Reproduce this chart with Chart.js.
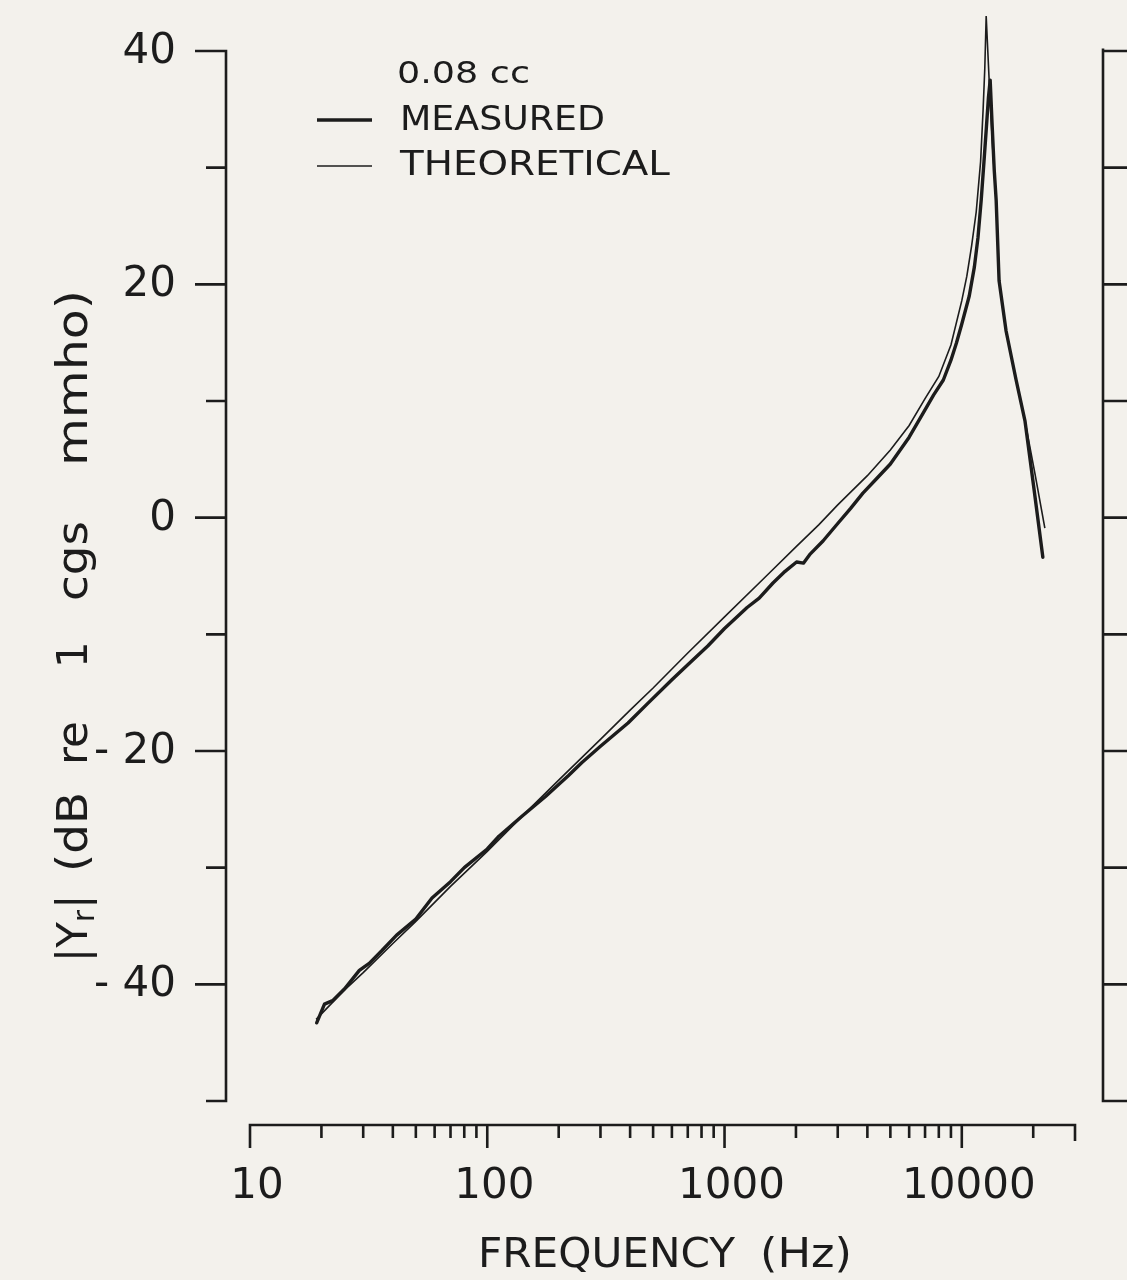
<!DOCTYPE html>
<html>
<head>
<meta charset="utf-8">
<script src="https://cdn.jsdelivr.net/npm/chart.js@4.4.1/dist/chart.umd.min.js"></script>
<style>
  html, body { margin: 0; padding: 0; background: #f3f1ec; }
  #wrap { width: 1127px; height: 1280px; position: relative; }
</style>
</head>
<body>
<div id="wrap"><canvas id="c" width="1127" height="1280"></canvas></div>
<script>
// Admittance magnitude of the 0.08 cc cavity, dB re 1 cgs mmho
const theoFreq = [19, 25, 30, 40, 50, 70, 100, 150, 200, 300, 400, 500, 700, 1000, 1500, 2000, 2500, 3000, 4000, 5000, 6000, 7000, 8000, 9000, 10000, 10500, 11000, 11500, 12000, 12300, 12500, 12670, 13040, 13500, 13960, 14360, 15370, 16940, 18460, 20330, 22390];
const theoDb   = [-43.0, -40.5, -39.0, -36.5, -34.6, -31.6, -28.6, -25.0, -22.5, -19.0, -16.5, -14.6, -11.6, -8.5, -5.0, -2.5, -0.6, 1.1, 3.6, 5.8, 7.9, 10.2, 12.1, 14.8, 18.6, 20.7, 23.3, 26.2, 30.5, 35.0, 38.5, 43.0, 37.5, 31.6, 27.2, 20.3, 16.0, 11.8, 8.3, 3.8, -0.9];

const measFreq = [19.1, 20.6, 22.3, 25, 28.9, 31.8, 36, 41.4, 50, 58.5, 70, 80, 100, 112, 140, 176, 220, 250, 300, 392, 476, 600, 700, 850, 1000, 1245, 1400, 1600, 1800, 2012, 2150, 2300, 2600, 3000, 3400, 3830, 4400, 5000, 6000, 6890, 7600, 8360, 9000, 9500, 10000, 10750, 11300, 11700, 12070, 12400, 12700, 12950, 13170, 13400, 13700, 13960, 14360, 15370, 16940, 18460, 20140, 21960];
const measDb   = [-43.3, -41.7, -41.4, -40.4, -38.8, -38.2, -37.1, -35.8, -34.4, -32.6, -31.2, -30.0, -28.4, -27.3, -25.6, -23.9, -22.1, -21.0, -19.6, -17.6, -15.9, -13.9, -12.6, -11.0, -9.5, -7.7, -6.9, -5.6, -4.6, -3.8, -3.9, -3.1, -2.0, -0.5, 0.8, 2.1, 3.4, 4.6, 6.9, 9.0, 10.5, 11.8, 13.5, 15.0, 16.6, 19.0, 21.5, 24.0, 27.2, 30.5, 33.5, 36.0, 37.5, 34.0, 29.8, 27.2, 20.3, 16.0, 11.8, 8.3, 2.5, -3.4];

// Axis ticks and labels
const yTickValues  = [40, 30, 20, 10, 0, -10, -20, -30, -40, -50];
const yLabelValues = [40, 20, 0, -20, -40];
const yLabelText   = ['40', '20', '0', '- 20', '- 40'];
const xMajorValues = [10, 100, 1000, 10000];
const xMajorText   = ['10', '100', '1000', '10000'];
const xMinorValues = [20, 30, 40, 50, 60, 70, 80, 90,
                      200, 300, 400, 500, 600, 700, 800, 900,
                      2000, 3000, 4000, 5000, 6000, 7000, 8000, 9000,
                      20000, 30000];

const legendTitle = '0.08 cc';
const seriesNames = ['MEASURED', 'THEORETICAL'];

const INK = '#1c1c1c';
const FONT = '"DejaVu Sans", "Liberation Sans", sans-serif';

// draw left-aligned text stretched horizontally to a given width
function drawFitted(ctx, text, x, y, width) {
  const natural = ctx.measureText(text).width;
  const k = width / natural;
  ctx.save();
  ctx.translate(x, y);
  ctx.scale(k, 1);
  ctx.textAlign = 'left';
  ctx.fillText(text, 0, 0);
  ctx.restore();
}

const paperPlugin = {
  id: 'paper',
  beforeDraw(chart) {
    const ctx = chart.ctx;
    ctx.save();
    ctx.fillStyle = '#f3f1ec';
    ctx.fillRect(0, 0, chart.width, chart.height);
    ctx.restore();
  }
};

const framePlugin = {
  id: 'frame',
  afterDraw(chart) {
    const ctx = chart.ctx;
    const xs = chart.scales.x, ys = chart.scales.y;
    const yTop = ys.getPixelForValue(40), yBot = ys.getPixelForValue(-50);
    const leftX = 226, rightX = 1103, axisY = 1125;
    ctx.save();
    ctx.strokeStyle = INK;
    ctx.fillStyle = INK;
    ctx.lineCap = 'butt';
    ctx.lineWidth = 2.6;

    // left axis, ticks pointing outward
    ctx.beginPath();
    ctx.moveTo(leftX, yTop - 1.3); ctx.lineTo(leftX, yBot + 1.3);
    yTickValues.forEach(v => {
      const py = ys.getPixelForValue(v);
      const len = yLabelValues.includes(v) ? 31 : 20;
      ctx.moveTo(leftX, py); ctx.lineTo(leftX - len, py);
    });
    ctx.stroke();

    // right axis, ticks pointing outward
    ctx.beginPath();
    ctx.moveTo(rightX, yTop - 2.5); ctx.lineTo(rightX, yBot + 1.3);
    yTickValues.forEach(v => {
      const py = ys.getPixelForValue(v);
      ctx.moveTo(rightX, py); ctx.lineTo(rightX + 24, py);
    });
    ctx.stroke();

    // frequency axis, ticks pointing down
    const x0 = xs.getPixelForValue(10), x1 = xs.getPixelForValue(30000);
    ctx.beginPath();
    ctx.moveTo(x0 - 1.3, axisY); ctx.lineTo(x1 + 1.3, axisY);
    xMajorValues.forEach(v => {
      const px = xs.getPixelForValue(v);
      ctx.moveTo(px, axisY); ctx.lineTo(px, axisY + 23);
    });
    xMinorValues.forEach(v => {
      const px = xs.getPixelForValue(v);
      const len = v === 30000 ? 16 : 13;
      ctx.moveTo(px, axisY); ctx.lineTo(px, axisY + len);
    });
    ctx.stroke();

    // tick labels
    ctx.font = '42px ' + FONT;
    ctx.textBaseline = 'middle';
    ctx.textAlign = 'right';
    yLabelValues.forEach((v, i) => {
      ctx.fillText(yLabelText[i], 176, ys.getPixelForValue(v) + 1);
    });
    ctx.textAlign = 'center';
    xMajorValues.forEach((v, i) => {
      ctx.fillText(xMajorText[i], xs.getPixelForValue(v) + 7, 1187);
    });

    // frequency axis title
    ctx.font = '41px ' + FONT;
    drawFitted(ctx, 'FREQUENCY', 478, 1256, 257);
    drawFitted(ctx, '(Hz)', 760, 1256, 92);

    // vertical title, reading upward
    ctx.save();
    ctx.translate(76, 0);
    ctx.rotate(-Math.PI / 2);
    ctx.textBaseline = 'middle';
    ctx.font = '42px ' + FONT;
    ctx.textAlign = 'left';
    // |Y r| with subscript r
    let sx = -962;
    ctx.fillText('|Y', sx, 0);
    sx += ctx.measureText('|Y').width;
    ctx.font = '30px ' + FONT;
    ctx.fillText('r', sx, 10);
    sx += ctx.measureText('r').width + 1;
    ctx.font = '42px ' + FONT;
    ctx.fillText('|', sx, 0);
    drawFitted(ctx, '(dB', -872, 0, 80);
    drawFitted(ctx, 're', -765, 0, 44);
    ctx.fillText('1', -668, 0);
    drawFitted(ctx, 'cgs', -601, 0, 80);
    drawFitted(ctx, 'mmho)', -466, 0, 176);
    ctx.restore();

    // legend
    ctx.font = '31px ' + FONT;
    drawFitted(ctx, legendTitle, 397, 75, 133);
    ctx.font = '33px ' + FONT;
    drawFitted(ctx, seriesNames[0], 400, 121, 205);
    drawFitted(ctx, seriesNames[1], 400, 166, 270);
    ctx.beginPath();
    ctx.lineWidth = 3.4;
    ctx.moveTo(317, 120); ctx.lineTo(372, 120);
    ctx.stroke();
    ctx.beginPath();
    ctx.lineWidth = 1.6;
    ctx.moveTo(317, 166); ctx.lineTo(372, 166);
    ctx.stroke();
    ctx.restore();
  }
};

new Chart(document.getElementById('c').getContext('2d'), {
  type: 'line',
  data: {
    datasets: [
      {
        label: seriesNames[0],
        data: measFreq.map((f, i) => ({ x: f, y: measDb[i] })),
        borderColor: INK,
        borderWidth: 3.4,
        pointRadius: 0,
        tension: 0,
        fill: false,
        clip: false,
        borderJoinStyle: 'round',
        borderCapStyle: 'round'
      },
      {
        label: seriesNames[1],
        data: theoFreq.map((f, i) => ({ x: f, y: theoDb[i] })),
        borderColor: INK,
        borderWidth: 1.6,
        pointRadius: 0,
        tension: 0,
        fill: false,
        clip: false,
        borderJoinStyle: 'miter',
        borderCapStyle: 'butt'
      }
    ]
  },
  options: {
    responsive: false,
    animation: false,
    devicePixelRatio: 1,
    layout: { padding: { left: 250, right: 52, top: 51, bottom: 179 } },
    plugins: { legend: { display: false }, tooltip: { enabled: false } },
    scales: {
      x: { type: 'logarithmic', min: 10, max: 30000, display: false },
      y: { type: 'linear', min: -50, max: 40, display: false }
    }
  },
  plugins: [paperPlugin, framePlugin]
});
</script>
</body>
</html>
